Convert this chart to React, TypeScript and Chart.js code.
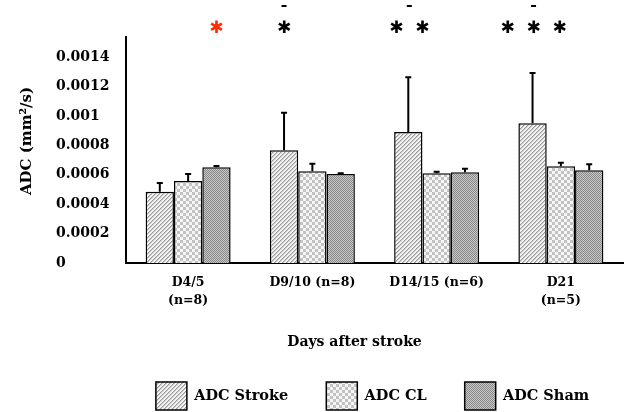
import React, { useEffect, useRef } from "react";
import { Chart, registerables } from "chart.js";

Chart.register(...registerables);

// ---- data ----
const categories: (string | string[])[] = [["D4/5", "(n=8)"], "D9/10 (n=8)", "D14/15 (n=6)", ["D21", "(n=5)"]];
const seriesNames = ["ADC Stroke", "ADC CL", "ADC Sham"];
const strokeValues = [0.000485, 0.000766, 0.00089, 0.00095];
const strokeErrors = [0.000059, 0.000255, 0.000372, 0.000341];
const clValues = [0.000557, 0.000623, 0.00061, 0.000657];
const clErrors = [0.000048, 0.000052, 0.00001, 0.000025];
const shamValues = [0.00065, 0.000605, 0.000616, 0.00063];
const shamErrors = [0.000009, 0.000005, 0.000025, 0.000041];
const yTicks = [0, 0.0002, 0.0004, 0.0006, 0.0008, 0.001, 0.0012, 0.0014];
const yMax = 0.001536;
const sigCounts = [1, 1, 2, 3];
const sigBarIndex = [2, 0, 0, 0];
const sigColors = ["#ff2a00", "#000000", "#000000", "#000000"];
const sigDash = [false, true, true, true];
const yTitle = "ADC (mm\u00b2/s)";
const xTitle = "Days after stroke";

const FONT = "'DejaVu Serif', 'Liberation Serif', serif";

function makePattern(kind: string): CanvasPattern | string {
  const c = document.createElement("canvas");
  const ctx = c.getContext("2d")!;
  if (kind === "stroke") {
    c.width = 4; c.height = 4;
    for (let x = 0; x < 4; x++) for (let y = 0; y < 4; y++) {
      const m = (x + y) % 4;
      ctx.fillStyle = m === 0 ? "#9a9a9a" : m === 1 ? "#c8c8c8" : "#f4f4f4";
      ctx.fillRect(x, y, 1, 1);
    }
  } else if (kind === "cl") {
    c.width = 6; c.height = 6;
    ctx.fillStyle = "#f6f6f6"; ctx.fillRect(0, 0, 6, 6);
    ctx.fillStyle = "#c2c2c2"; ctx.fillRect(0, 0, 3, 3); ctx.fillRect(3, 3, 3, 3);
  } else {
    c.width = 2; c.height = 2;
    ctx.fillStyle = "#c6c6c6"; ctx.fillRect(0, 0, 2, 2);
    ctx.fillStyle = "#8a8a8a"; ctx.fillRect(0, 0, 1, 1); ctx.fillRect(1, 1, 1, 1);
  }
  return ctx.createPattern(c, "repeat") || "#ccc";
}

const legendShiftPlugin = {
  id: "legendShift",
  afterLayout(chart: any) {
    const lg = chart.legend;
    const area = chart.chartArea;
    if (!lg) return;
    const d = (area.left + area.right) / 2 - 2 - (lg.left + lg.right) / 2;
    lg.left += d;
    lg.right += d;
  },
};

const errorBarPlugin = {
  id: "errorBars",
  afterDatasetsDraw(chart: any) {
    const ctx = chart.ctx;
    const yScale = chart.scales.y;
    ctx.save();
    ctx.strokeStyle = "#000";
    ctx.lineWidth = 2;
    chart.data.datasets.forEach((ds: any, di: number) => {
      const meta = chart.getDatasetMeta(di);
      meta.data.forEach((el: any, i: number) => {
        const top = yScale.getPixelForValue(ds.data[i] + ds.errors[i]);
        ctx.beginPath();
        ctx.moveTo(el.x, el.y);
        ctx.lineTo(el.x, top);
        ctx.moveTo(el.x - 3, top);
        ctx.lineTo(el.x + 3, top);
        ctx.stroke();
      });
    });
    ctx.restore();
  },
};

const annotationPlugin = {
  id: "annotations",
  afterDraw(chart: any) {
    const ctx = chart.ctx;
    const area = chart.chartArea;
    ctx.save();
    // axis titles
    ctx.fillStyle = "#000";
    ctx.font = `bold 15px ${FONT}`;
    ctx.textAlign = "center";
    ctx.textBaseline = "middle";
    ctx.save();
    ctx.translate(27, (area.top + area.bottom) / 2 - 9);
    ctx.rotate(-Math.PI / 2);
    ctx.fillText(yTitle, 0, 0);
    ctx.restore();
    ctx.font = `bold 14px ${FONT}`;
    ctx.fillText(xTitle, (area.left + area.right) / 2 - 20, 342);
    // significance marks
    sigCounts.forEach((n, i) => {
      const el = chart.getDatasetMeta(sigBarIndex[i]).data[i];
      const cx = el.x + (n > 1 ? 1 : 0);
      ctx.fillStyle = sigColors[i];
      ctx.font = `bold 17px 'DejaVu Sans', sans-serif`;
      for (let k = 0; k < n; k++) {
        const x = cx + (k - (n - 1) / 2) * 26;
        ctx.fillText("\u2731", x, area.top - 8);
      }
      if (sigDash[i]) {
        ctx.fillStyle = "#000";
        ctx.fillRect(cx - 2.5, 5, 5, 2);
      }
    });
    ctx.restore();
  },
};

export default function App() {
  const ref = useRef<HTMLCanvasElement>(null);
  useEffect(() => {
    if (!ref.current) return;
    const patterns = [makePattern("stroke"), makePattern("cl"), makePattern("sham")];
    const values = [strokeValues, clValues, shamValues];
    const errors = [strokeErrors, clErrors, shamErrors];
    const chart = new Chart(ref.current, {
      type: "bar",
      data: {
        labels: categories as any,
        datasets: seriesNames.map((name, i) => ({
          label: name,
          data: values[i],
          errors: errors[i],
          backgroundColor: patterns[i] as any,
          borderColor: "#000",
          borderWidth: 1.5,
          borderSkipped: "start",
          categoryPercentage: 0.684,
          barPercentage: 1,
        })) as any,
      },
      options: {
        responsive: false,
        animation: false,
        events: [],
        layout: { padding: { left: 56, right: 7, top: 37, bottom: -8 } },
        plugins: {
          tooltip: { enabled: false },
          legend: {
            position: "bottom",
            labels: {
              boxWidth: 31,
              boxHeight: 28,
              padding: 38,
              color: "#000",
              font: { family: FONT, size: 14.5, weight: "bold" },
            },
          },
        },
        scales: {
          x: {
            grid: { display: false, drawTicks: false },
            border: { display: true, color: "#000", width: 2 },
            ticks: {
              color: "#000",
              padding: 11,
              maxRotation: 0,
              autoSkip: false,
              font: { family: FONT, size: 12.5, weight: "bold", lineHeight: 1.4 },
            },
            afterFit: (scale: any) => { scale.height = 81; },
          },
          y: {
            min: 0,
            max: yMax,
            grid: { display: false, drawTicks: false },
            border: { display: true, color: "#000", width: 2 },
            afterBuildTicks: (scale: any) => { scale.ticks = yTicks.map((v) => ({ value: v })); },
            ticks: {
              color: "#000",
              crossAlign: "far",
              font: { family: FONT, size: 14, weight: "bold" },
              callback: (v: any) => String(Number(Number(v).toFixed(4))),
            },
            afterFit: (scale: any) => { scale.width = 70; },
          },
        },
      },
      plugins: [legendShiftPlugin, errorBarPlugin, annotationPlugin],
    });
    return () => chart.destroy();
  }, []);
  return (
    <div style={{ position: "fixed", left: 0, top: 0, width: 630, height: 412, background: "#fff" }}>
      <canvas ref={ref} width={630} height={412} style={{ display: "block" }} />
    </div>
  );
}
